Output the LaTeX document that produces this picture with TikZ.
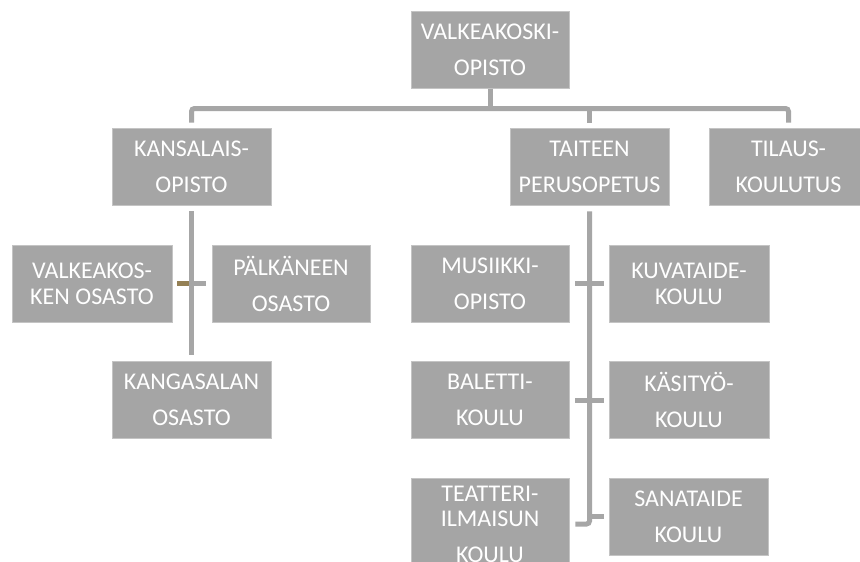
\documentclass[tikz,border=0pt]{standalone}
\usepackage{fontspec}
\setmainfont{Carlito}
\definecolor{boxgray}{RGB}{165,165,165}
\definecolor{edgegray}{RGB}{196,196,196}
\definecolor{linegray}{RGB}{166,166,166}
\definecolor{tickbrown}{RGB}{148,128,85}
\tikzset{
  orgbox/.style={fill=boxgray, draw=edgegray, line width=0.8pt, minimum width=158pt,
    minimum height=77pt, inner sep=0pt, align=center, text=white,
    font=\fontsize{24}{36}\selectfont},
  wrapbox/.style={orgbox, font=\fontsize{24}{26}\selectfont},
  conn/.style={draw=linegray, line width=5pt},
  brownconn/.style={draw=tickbrown, line width=5pt}
}
\begin{document}
\begin{tikzpicture}[x=1pt, y=-1pt]
\useasboundingbox (0,0) rectangle (860,562);
\clip (0,0) rectangle (860,562);
\fill[white] (0,0) rectangle (860,562);

% boxes
\node[orgbox] (top) at (490,50) {VALKEAKOSKI-\\OPISTO};
\node[orgbox, minimum width=159pt] (kans) at (191.5,166.5) {KANSALAIS-\\OPISTO};
\node[orgbox, minimum width=159pt] (taiteen) at (589.5,166.5) {TAITEEN\\PERUSOPETUS};
\node[orgbox, minimum width=159pt] (tilaus) at (788.5,166.5) {TILAUS-\\KOULUTUS};

\node[wrapbox, minimum width=160pt] (valk) at (92,283.5) {VALKEAKOS-\\KEN OSASTO};
\node[orgbox] (palk) at (291,283.5) {PÄLKÄNEEN\\OSASTO};
\node[orgbox, minimum width=159pt] (kang) at (191.5,400) {KANGASALAN\\OSASTO};

\node[orgbox] (mus) at (490,283.5) {MUSIIKKI-\\OPISTO};
\node[wrapbox, minimum width=160pt] (kuva) at (689,283.5) {KUVATAIDE-\\KOULU};
\node[orgbox] (bal) at (490,400) {BALETTI-\\KOULU};
\node[orgbox, minimum width=160pt] (kasi) at (689,400) {KÄSITYÖ-\\KOULU};
\node[orgbox, minimum height=92pt, font=\fontsize{24}{25}\selectfont] (teat) at (490,524) {TEATTERI-\\ILMAISUN\\[11pt]KOULU};
\node[orgbox, minimum width=159pt] (sana) at (688.5,516.5) {SANATAIDE\\KOULU};

% top level connectors
\coordinate (bar) at (490,108.5);
\draw[conn] (top.south) -- (bar);
\draw[conn, rounded corners=3pt, shorten <=5pt, shorten >=5pt] (kans.north) |- (bar) -| (tilaus.north);
\draw[conn, shorten <=5pt] (taiteen.north) -- (taiteen.north |- bar);

% kansalaisopisto branch
\draw[conn, shorten <=5pt, shorten >=6pt] (valk.east) -- (palk.west);
\draw[conn, shorten <=6pt, shorten >=6pt] (kans.south) -- (kang.north);
\draw[brownconn, shorten <=5pt, shorten >=2.5pt] (valk.east) -- (valk.east -| kans.south);

% taiteen perusopetus branch
\draw[conn, rounded corners=3pt, shorten <=6pt, shorten >=6pt] (taiteen.south) |- (teat.east);
\draw[conn, shorten <=6pt, shorten >=5pt] (mus.east) -- (kuva.west);
\draw[conn, shorten <=6pt, shorten >=5pt] (bal.east) -- (kasi.west);
\draw[conn, shorten >=5pt] (sana.west -| taiteen.south) -- (sana.west);
\end{tikzpicture}
\end{document}
